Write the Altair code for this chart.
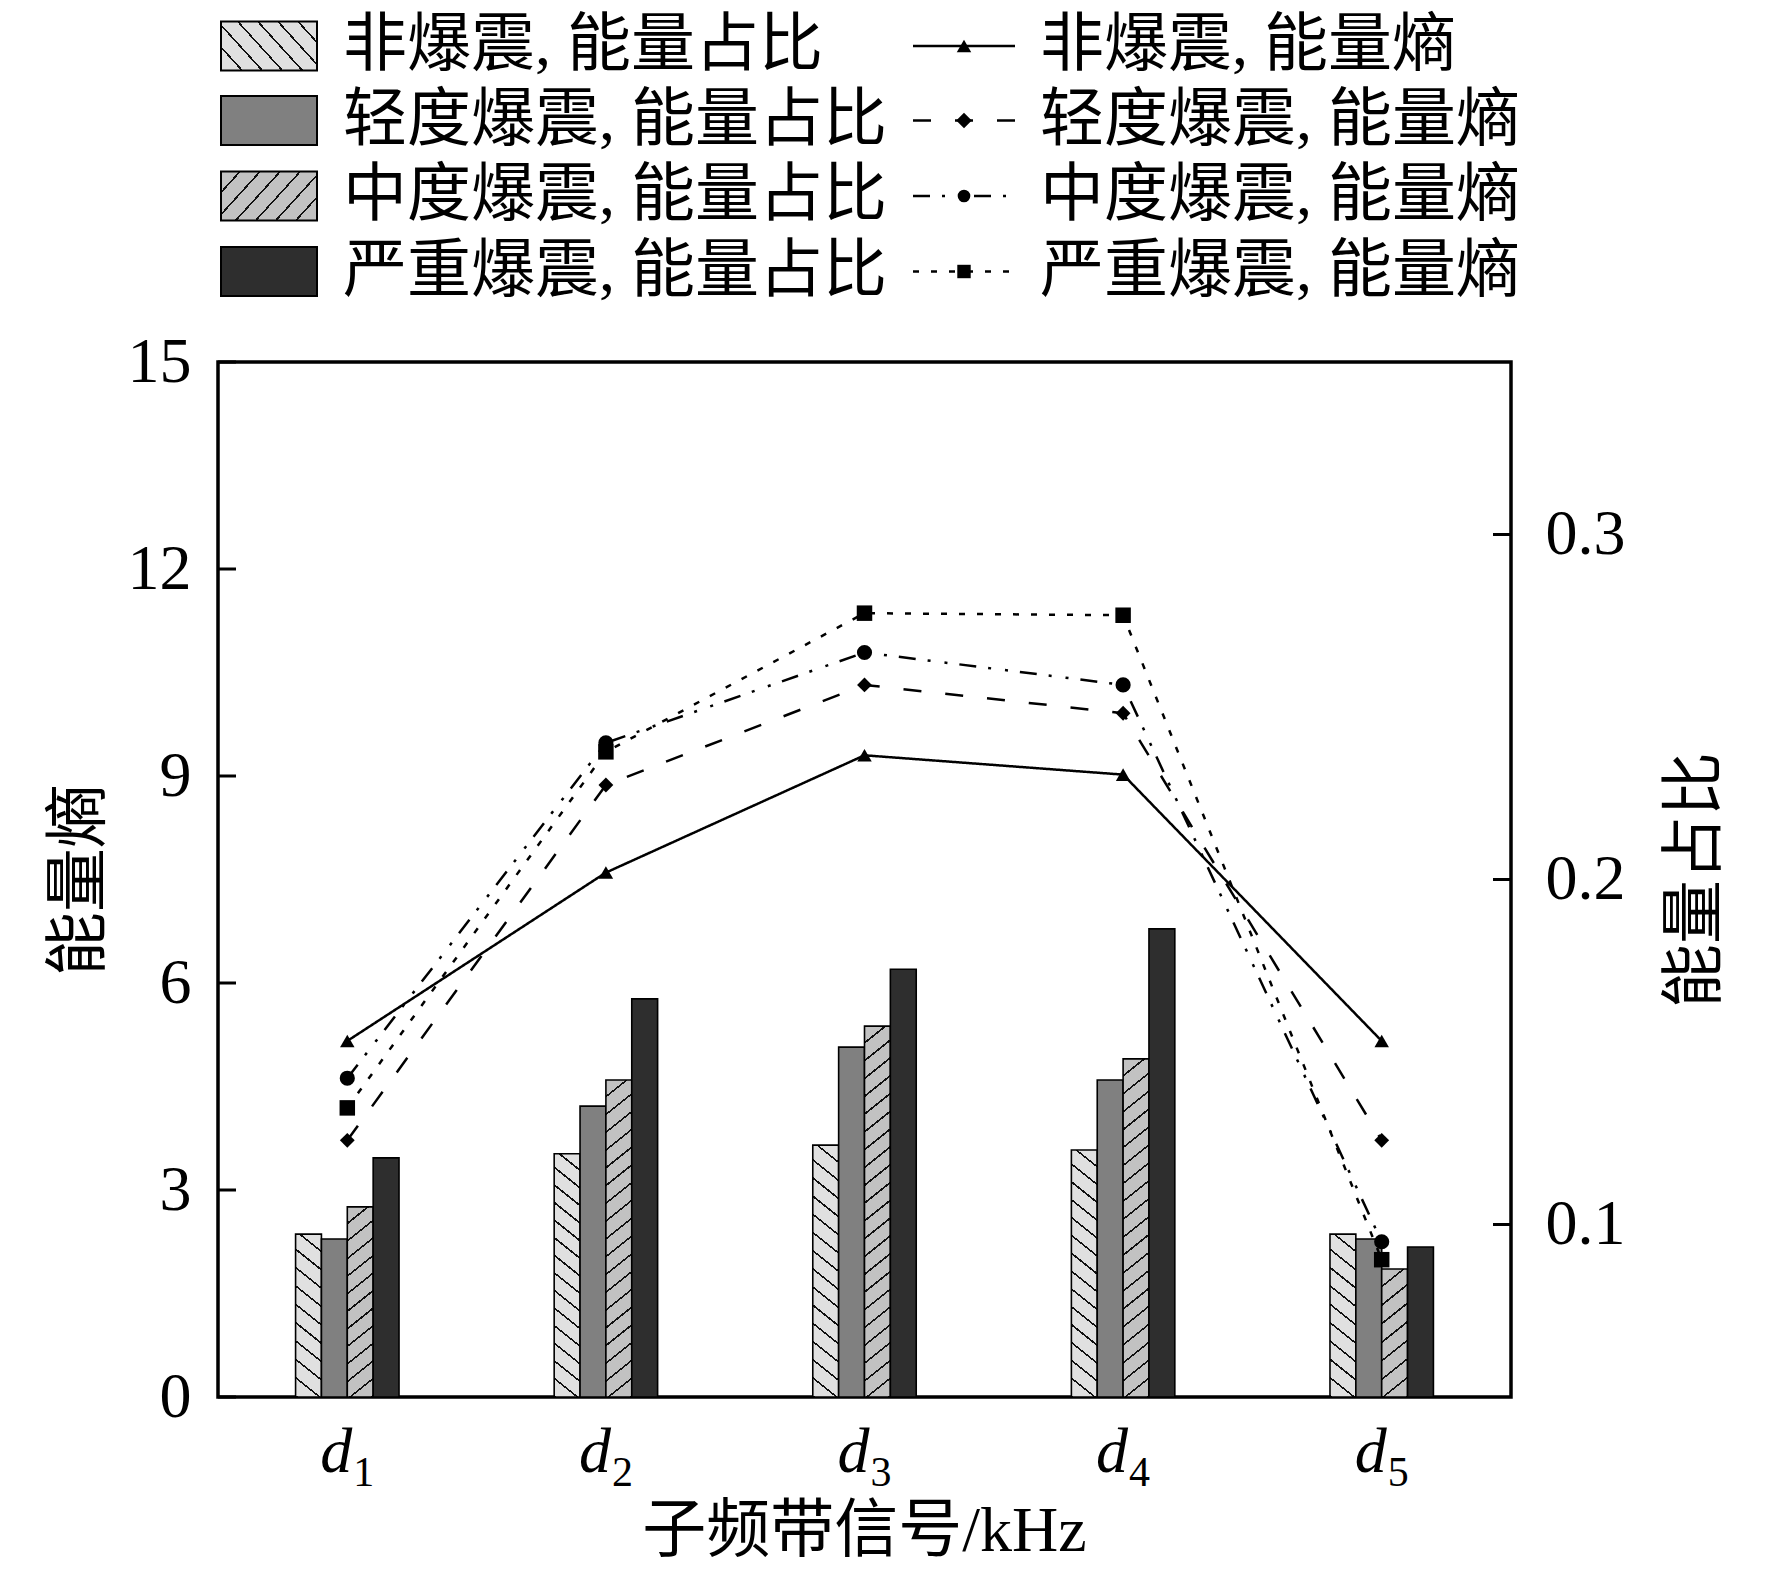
import math
import altair as alt
import pandas as pd

# ---------------- data ----------------
categories = ["d1", "d2", "d3", "d4", "d5"]
sub_labels = ["1", "2", "3", "4", "5"]
series = ["非爆震", "轻度爆震", "中度爆震", "严重爆震"]
bar_labels = ["非爆震, 能量占比", "轻度爆震, 能量占比", "中度爆震, 能量占比", "严重爆震, 能量占比"]
line_labels = ["非爆震, 能量熵", "轻度爆震, 能量熵", "中度爆震, 能量熵", "严重爆震, 能量熵"]

# energy ratio (right axis, bars)
ratio_non = [0.0972, 0.1205, 0.1230, 0.1216, 0.0972]
ratio_light = [0.0958, 0.1343, 0.1514, 0.1419, 0.0958]
ratio_mid = [0.1051, 0.1419, 0.1575, 0.1480, 0.0871]
ratio_severe = [0.1193, 0.1654, 0.1740, 0.1857, 0.0935]

# energy entropy (left axis, lines)
entropy_non = [5.16, 7.60, 9.30, 9.02, 5.16]
entropy_light = [3.72, 8.87, 10.32, 9.91, 3.72]
entropy_mid = [4.62, 9.48, 10.79, 10.32, 2.25]
entropy_severe = [4.19, 9.35, 11.36, 11.33, 1.99]

left_ticks = [0, 3, 6, 9, 12, 15]
right_ticks = [0.1, 0.2, 0.3]

ratio_lists = [ratio_non, ratio_light, ratio_mid, ratio_severe]
entropy_lists = [entropy_non, entropy_light, entropy_mid, entropy_severe]

# ---------------- style ----------------
W, H = 1293, 1035
FONT = "Liberation Serif, Noto Sans CJK SC"
R_DOM = [0.05, 0.35]
E_DOM = [0, 15]
DASHES = [None, [18, 24], [17, 12, 3, 14, 3, 12], [6, 12]]
SHAPES = ["triangle-up", "diamond", "circle", "square"]
SIZES = [210, 240, 160, 180]


def hatch(bg, fg, slope, w, h, spacing, lw=1.6):
    mp = slope * w / h
    nx, ny = mp, -1.0
    corners = [(0, 0), (1, 0), (0, 1), (1, 1)]
    ts = [nx * cx + ny * cy for cx, cy in corners]
    tmin, tmax = min(ts), max(ts)
    x0, y0 = corners[ts.index(tmin)]
    L = tmax - tmin
    n2 = nx * nx + ny * ny
    x1, y1 = x0 + L * nx / n2, y0 + L * ny / n2
    n = max(2, int(round(L * h / spacing)))
    perp = (L * h / n) / math.sqrt(1 + slope * slope)
    f = min(0.45, lw / perp)
    stops = []
    for k in range(n):
        a, b, c = k / n, (k + f) / n, (k + 1) / n
        stops += [
            {"offset": round(a, 5), "color": fg},
            {"offset": round(b, 5), "color": fg},
            {"offset": round(b, 5), "color": bg},
            {"offset": round(c, 5), "color": bg},
        ]
    return {"gradient": "linear", "x1": x0, "y1": y0, "x2": x1, "y2": y1, "stops": stops}


def fill_for(i, w, h, spacing, slope_mag):
    if i == 0:
        return hatch("#e0e0e0", "#111111", slope_mag, w, h, spacing)
    if i == 1:
        return "#808080"
    if i == 2:
        return hatch("#c2c2c2", "#111111", -slope_mag, w, h, spacing)
    return "#2e2e2e"


x_enc = alt.X("cat:N", scale=alt.Scale(domain=categories, paddingInner=0.6, paddingOuter=0.3), axis=None)
xo_enc = alt.XOffset("series:N", scale=alt.Scale(domain=series, paddingInner=0, paddingOuter=0))

right_axis = alt.Axis(
    values=right_ticks, orient="right", ticks=False, tickSize=0, domain=False, grid=False,
    labelPadding=34, labelFont=FONT, labelFontSize=64, labelColor="black",
    title="能量占比", titleFont=FONT, titleFontSize=64, titleFontWeight="normal", titleColor="black",
    titleAngle=270, titleX=184, titleY=H / 2, titleAlign="center", titleBaseline="middle",
)
left_axis = alt.Axis(
    values=left_ticks, orient="left", ticks=False, tickSize=0, domain=False, grid=False,
    labelPadding=27, labelFont=FONT, labelFontSize=64, labelColor="black",
    title="能量熵", titleFont=FONT, titleFontSize=64, titleFontWeight="normal", titleColor="black",
    titleAngle=270, titleX=-139, titleY=H / 2, titleAlign="center", titleBaseline="middle",
)

layers = []

# bars (one layer each so each can carry its own hatch fill)
bar_w = W / 5 * 0.4 / 4
first = True
for i, (s, vals) in enumerate(zip(series, ratio_lists)):
    for c, r in zip(categories, vals):
        h = (r - R_DOM[0]) / (R_DOM[1] - R_DOM[0]) * H
        fill = fill_for(i, bar_w, h, 18.0, 0.8)
        layers.append(
            alt.Chart(pd.DataFrame({"cat": [c], "series": [s], "ratio": [r]}))
            .mark_bar(fill=fill, stroke="black", strokeWidth=1.6)
            .encode(
                x=x_enc,
                xOffset=xo_enc,
                y=alt.Y("ratio:Q", scale=alt.Scale(domain=R_DOM, zero=False, nice=False),
                        axis=right_axis if first else None),
                y2=alt.datum(R_DOM[0]),
            )
        )
        first = False

# inward tick marks
layers.append(
    alt.Chart(pd.DataFrame({"v": left_ticks})).mark_rule(color="black", strokeWidth=3)
    .encode(y=alt.Y("v:Q", scale=alt.Scale(domain=E_DOM, nice=False), axis=None),
            x=alt.value(0), x2=alt.value(18))
)
layers.append(
    alt.Chart(pd.DataFrame({"v": right_ticks})).mark_rule(color="black", strokeWidth=3)
    .encode(y=alt.Y("v:Q", scale=alt.Scale(domain=R_DOM, zero=False, nice=False), axis=None),
            x=alt.value(W - 18), x2=alt.value(W))
)

# lines
rows = []
for s, vals in zip(series, entropy_lists):
    for c, v in zip(categories, vals):
        rows.append({"cat": c, "series": s, "entropy": v})
df_lines = pd.DataFrame(rows)

layers.append(
    alt.Chart(df_lines).mark_line(color="black", strokeWidth=2.5)
    .encode(
        x=x_enc,
        y=alt.Y("entropy:Q", scale=alt.Scale(domain=E_DOM, nice=False), axis=left_axis),
        strokeDash=alt.StrokeDash("series:N", scale=alt.Scale(domain=series, range=[[1, 0]] + DASHES[1:]), legend=None),
    )
)
layers.append(
    alt.Chart(df_lines).mark_point(filled=True, color="black", opacity=1)
    .encode(
        x=x_enc,
        y=alt.Y("entropy:Q", scale=alt.Scale(domain=E_DOM, nice=False), axis=None),
        shape=alt.Shape("series:N", scale=alt.Scale(domain=series, range=SHAPES), legend=None),
        size=alt.Size("series:N", scale=alt.Scale(domain=series, range=SIZES), legend=None),
    )
)

# x tick labels d_i
layers.append(
    alt.Chart(pd.DataFrame({"cat": categories}))
    .mark_text(font=FONT, fontStyle="italic", fontSize=64, align="right", baseline="alphabetic", dx=5, color="black")
    .encode(x=x_enc, y=alt.value(1110), text=alt.value("d"))
)
layers.append(
    alt.Chart(pd.DataFrame({"cat": categories, "sub": sub_labels}))
    .mark_text(font=FONT, fontSize=42, align="left", baseline="alphabetic", dx=6, color="black")
    .encode(x=x_enc, y=alt.value(1124), text="sub:N")
)
# x title
layers.append(
    alt.Chart(pd.DataFrame({"t": ["子频带信号/kHz"]}))
    .mark_text(font=FONT, fontSize=64, align="center", baseline="middle", color="black")
    .encode(x=alt.value(W / 2), y=alt.value(1170), text="t:N")
)

# legend
row_y = [-316.0, -241.5, -166.0, -90.5]
one = pd.DataFrame({"k": [0]})
for i in range(4):
    yc = row_y[i]
    sw_fill = fill_for(i, 96, 49, 22.0, 1.1)
    layers.append(
        alt.Chart(one).mark_rect(fill=sw_fill, stroke="black", strokeWidth=2)
        .encode(x=alt.value(3), x2=alt.value(99), y=alt.value(yc - 24.5), y2=alt.value(yc + 24.5))
    )
    layers.append(
        alt.Chart(pd.DataFrame({"t": [bar_labels[i]]}))
        .mark_text(font=FONT, fontSize=64, align="left", baseline="middle", color="black")
        .encode(x=alt.value(125), y=alt.value(yc), text="t:N")
    )
    rule_kw = {"color": "black", "strokeWidth": 2.5}
    if DASHES[i] is not None:
        rule_kw["strokeDash"] = DASHES[i]
    layers.append(
        alt.Chart(one).mark_rule(**rule_kw)
        .encode(x=alt.value(695), x2=alt.value(797), y=alt.value(yc))
    )
    layers.append(
        alt.Chart(one).mark_point(shape=SHAPES[i], filled=True, size=SIZES[i], color="black", opacity=1)
        .encode(x=alt.value(746), y=alt.value(yc))
    )
    layers.append(
        alt.Chart(pd.DataFrame({"t": [line_labels[i]]}))
        .mark_text(font=FONT, fontSize=64, align="left", baseline="middle", color="black")
        .encode(x=alt.value(822), y=alt.value(yc), text="t:N")
    )

chart = (
    alt.layer(*layers)
    .resolve_scale(y="independent")
    .properties(
        width=W,
        height=H,
        padding={"left": 210, "top": 354, "right": 245, "bottom": 177},
        autosize=alt.AutoSizeParams(type="none"),
        background="white",
    )
    .configure(font=FONT)
    .configure_view(stroke="black", strokeWidth=3.5)
)

chart.save("out.html", embed_options={"renderer": "svg", "actions": False})
